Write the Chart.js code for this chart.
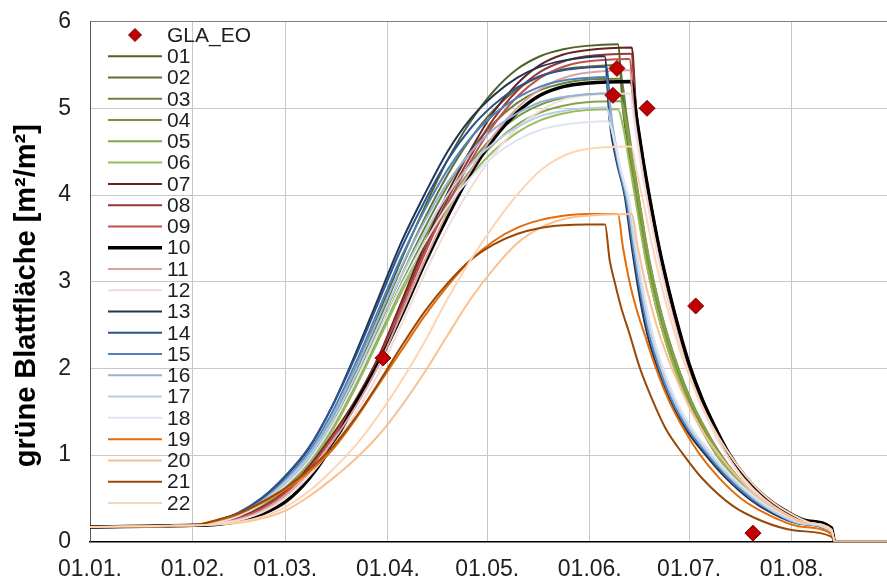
<!DOCTYPE html>
<html>
<head>
<meta charset="utf-8">
<script src="https://cdn.jsdelivr.net/npm/chart.js@4.4.1/dist/chart.umd.min.js"></script>
<style>
  html, body { margin: 0; padding: 0; background: #ffffff; }
  #wrap { width: 887px; height: 581px; }
</style>
</head>
<body>
<div id="wrap"><canvas id="lai"></canvas></div>
<script>
// Month starts (day of year, 0 = 01.01.) and their axis labels
const monthDays = [0, 31, 59, 90, 120, 151, 181, 212];
const monthLabels = ['01.01.', '01.02.', '01.03.', '01.04.', '01.05.', '01.06.', '01.07.', '01.08.'];

// Observed green leaf area (GLA_EO): day of year and value
const obsDays = [88.5, 158, 159.2, 168.3, 183, 200.3];
const obsLAI  = [2.12, 5.15, 5.46, 5.00, 2.72, 0.10];

// Simulated green leaf area per run: [day of year, m²/m²]
const lai01 = [[0,0.17],[31,0.19],[38,0.23],[45,0.30],[52,0.45],[59,0.66],[66,0.98],[73,1.42],[80,1.98],[87,2.60],[94,3.25],[101,3.85],[108,4.40],[115,4.85],[122,5.20],[129,5.45],[136,5.60],[143,5.68],[150,5.72],[159.5,5.74],[161,5.00],[163,4.45],[165,3.95],[168,3.25],[171,2.72],[174,2.30],[177,1.96],[181,1.58],[185,1.28],[189,1.02],[194,0.77],[200,0.53],[207,0.35],[214,0.23],[224,0.12],[225,0],[241,0]];
const lai02 = [[0,0.17],[31,0.19],[38,0.23],[45,0.30],[52,0.44],[59,0.65],[66,0.96],[73,1.39],[80,1.93],[87,2.53],[94,3.15],[101,3.72],[108,4.23],[115,4.65],[122,4.98],[129,5.22],[136,5.37],[143,5.45],[150,5.48],[160,5.50],[161.5,4.98],[163.5,4.44],[165.5,3.94],[168.5,3.25],[171.5,2.72],[174.5,2.31],[177.5,1.97],[181.5,1.59],[185.5,1.29],[189.5,1.03],[194.5,0.78],[200.5,0.54],[207.5,0.36],[214.5,0.23],[224,0.13],[225,0],[241,0]];
const lai03 = [[0,0.17],[31,0.19],[38,0.22],[45,0.29],[52,0.43],[59,0.63],[66,0.93],[73,1.35],[80,1.88],[87,2.46],[94,3.06],[101,3.61],[108,4.10],[115,4.51],[122,4.83],[129,5.06],[136,5.21],[143,5.29],[150,5.33],[160.5,5.34],[162,4.95],[164,4.42],[166,3.93],[169,3.25],[172,2.73],[175,2.32],[178,1.98],[182,1.60],[186,1.30],[190,1.04],[195,0.78],[201,0.54],[208,0.36],[215,0.23],[224,0.13],[225,0],[241,0]];
const lai04 = [[0,0.17],[31,0.19],[38,0.22],[45,0.29],[52,0.42],[59,0.62],[66,0.91],[73,1.31],[80,1.82],[87,2.39],[94,2.97],[101,3.50],[108,3.98],[115,4.37],[122,4.68],[129,4.90],[136,5.04],[143,5.12],[150,5.16],[160,5.17],[161.5,4.88],[163.5,4.40],[165.5,3.92],[168.5,3.24],[171.5,2.72],[174.5,2.31],[177.5,1.97],[181.5,1.59],[185.5,1.29],[189.5,1.03],[194.5,0.78],[200.5,0.54],[207.5,0.36],[214.5,0.23],[224,0.13],[225,0],[241,0]];
const lai05 = [[0,0.17],[31,0.19],[38,0.22],[45,0.28],[52,0.41],[59,0.60],[66,0.89],[73,1.29],[80,1.79],[87,2.35],[94,2.92],[101,3.44],[108,3.91],[115,4.29],[122,4.59],[129,4.81],[136,4.95],[143,5.03],[150,5.07],[160.5,5.08],[162,4.85],[164,4.38],[166,3.90],[169,3.24],[172,2.72],[175,2.31],[178,1.97],[182,1.59],[186,1.29],[190,1.03],[195,0.78],[201,0.54],[208,0.36],[215,0.23],[224,0.13],[225,0],[241,0]];
const lai06 = [[0,0.17],[31,0.19],[38,0.22],[45,0.28],[52,0.41],[59,0.60],[66,0.88],[73,1.27],[80,1.76],[87,2.31],[94,2.87],[101,3.38],[108,3.84],[115,4.22],[122,4.51],[129,4.72],[136,4.86],[143,4.94],[150,4.98],[159.5,4.99],[161,4.80],[163,4.36],[165,3.90],[168,3.23],[171,2.71],[174,2.30],[177,1.96],[181,1.58],[185,1.28],[189,1.02],[194,0.77],[200,0.53],[207,0.35],[214,0.23],[224,0.12],[225,0],[241,0]];
const lai07 = [[0,0.17],[31,0.19],[38,0.22],[45,0.28],[52,0.40],[59,0.58],[66,0.86],[73,1.22],[80,1.62],[87,2.12],[94,2.76],[101,3.42],[108,4.02],[115,4.52],[122,4.96],[129,5.28],[136,5.50],[143,5.62],[150,5.67],[163.7,5.70],[165,5.00],[167,4.45],[169,4.00],[172,3.40],[175,2.90],[178,2.45],[181,2.06],[185,1.65],[189,1.32],[193,1.03],[198,0.76],[204,0.52],[210,0.36],[217,0.24],[224,0.16],[225,0],[241,0]];
const lai08 = [[0,0.17],[31,0.19],[38,0.22],[45,0.28],[52,0.39],[59,0.57],[66,0.84],[73,1.20],[80,1.60],[87,2.10],[94,2.72],[101,3.36],[108,3.95],[115,4.45],[122,4.88],[129,5.20],[136,5.42],[143,5.54],[150,5.60],[163.5,5.63],[165,4.98],[167,4.44],[169,3.98],[172,3.38],[175,2.88],[178,2.43],[181,2.04],[185,1.63],[189,1.30],[193,1.02],[198,0.75],[204,0.51],[210,0.35],[217,0.23],[224,0.15],[225,0],[241,0]];
const lai09 = [[0,0.17],[31,0.19],[38,0.22],[45,0.27],[52,0.38],[59,0.56],[66,0.83],[73,1.18],[80,1.58],[87,2.07],[94,2.68],[101,3.31],[108,3.89],[115,4.39],[122,4.81],[129,5.13],[136,5.35],[143,5.48],[150,5.54],[163,5.57],[164.5,4.96],[166.5,4.42],[168.5,3.97],[171.5,3.37],[174.5,2.87],[177.5,2.42],[180.5,2.03],[184.5,1.62],[188.5,1.29],[192.5,1.01],[197.5,0.74],[203.5,0.51],[209.5,0.35],[216.5,0.23],[224,0.14],[225,0],[241,0]];
const lai10 = [[0,0.17],[31,0.19],[38,0.20],[45,0.24],[52,0.32],[59,0.46],[66,0.72],[73,1.10],[80,1.58],[87,2.05],[94,2.60],[101,3.20],[108,3.75],[115,4.25],[122,4.65],[129,4.95],[136,5.15],[143,5.25],[150,5.29],[163.5,5.31],[165,4.92],[167,4.42],[169,3.98],[172,3.38],[175,2.88],[178,2.44],[181,2.05],[185,1.64],[189,1.31],[193,1.02],[198,0.75],[204,0.52],[210,0.36],[217,0.24],[224,0.16],[225,0],[241,0]];
const lai11 = [[0,0.17],[31,0.19],[38,0.21],[45,0.26],[52,0.36],[59,0.53],[66,0.79],[73,1.14],[80,1.54],[87,2.02],[94,2.62],[101,3.23],[108,3.80],[115,4.28],[122,4.69],[129,5.00],[136,5.22],[143,5.35],[150,5.41],[163,5.44],[164.5,4.90],[166.5,4.38],[168.5,3.92],[171.5,3.33],[174.5,2.83],[177.5,2.39],[180.5,2.00],[184.5,1.60],[188.5,1.27],[192.5,1.00],[197.5,0.73],[203.5,0.50],[209.5,0.34],[216.5,0.22],[224,0.14],[225,0],[241,0]];
const lai12 = [[0,0.17],[31,0.19],[38,0.21],[45,0.25],[52,0.34],[59,0.50],[66,0.75],[73,1.08],[80,1.47],[87,1.93],[94,2.50],[101,3.08],[108,3.62],[115,4.08],[122,4.47],[129,4.77],[136,4.97],[143,5.10],[150,5.15],[163,5.17],[164.5,4.84],[166.5,4.34],[168.5,3.90],[171.5,3.31],[174.5,2.81],[177.5,2.37],[180.5,1.99],[184.5,1.59],[188.5,1.26],[192.5,0.99],[197.5,0.72],[203.5,0.49],[209.5,0.33],[216.5,0.22],[224,0.14],[225,0],[241,0]];
const lai13 = [[0,0.17],[31,0.19],[38,0.24],[45,0.33],[52,0.50],[59,0.75],[66,1.07],[73,1.55],[80,2.15],[87,2.80],[94,3.45],[101,4.00],[108,4.50],[115,4.88],[122,5.15],[129,5.35],[136,5.48],[143,5.55],[150,5.59],[155.5,5.60],[157,4.85],[159,4.40],[161.5,4.00],[163.5,3.45],[165.5,2.95],[168,2.45],[171,2.05],[175,1.65],[180,1.30],[186,1.00],[192,0.74],[199,0.50],[206,0.33],[214,0.21],[224,0.11],[225,0],[241,0]];
const lai14 = [[0,0.17],[31,0.19],[38,0.24],[45,0.34],[52,0.51],[59,0.76],[66,1.08],[73,1.55],[80,2.12],[87,2.75],[94,3.38],[101,3.92],[108,4.40],[115,4.77],[122,5.04],[129,5.24],[136,5.37],[143,5.44],[150,5.47],[156,5.48],[157.5,4.85],[159.5,4.38],[162,3.98],[164,3.44],[166,2.96],[168.5,2.47],[171.5,2.07],[175.5,1.67],[180.5,1.31],[186.5,1.01],[192.5,0.75],[199.5,0.51],[206.5,0.34],[214.5,0.21],[224,0.12],[225,0],[241,0]];
const lai15 = [[0,0.17],[31,0.19],[38,0.23],[45,0.32],[52,0.48],[59,0.72],[66,1.03],[73,1.48],[80,2.04],[87,2.66],[94,3.28],[101,3.82],[108,4.29],[115,4.66],[122,4.93],[129,5.12],[136,5.25],[143,5.32],[150,5.35],[156,5.36],[157.5,4.82],[159.5,4.36],[162,3.95],[164,3.42],[166,2.94],[168.5,2.46],[171.5,2.06],[175.5,1.66],[180.5,1.31],[186.5,1.01],[192.5,0.75],[199.5,0.51],[206.5,0.34],[214.5,0.21],[224,0.12],[225,0],[241,0]];
const lai16 = [[0,0.17],[31,0.19],[38,0.23],[45,0.32],[52,0.47],[59,0.70],[66,1.00],[73,1.43],[80,1.97],[87,2.57],[94,3.17],[101,3.69],[108,4.14],[115,4.49],[122,4.76],[129,4.94],[136,5.07],[143,5.13],[150,5.16],[156.5,5.17],[158,4.78],[160,4.34],[162.5,3.95],[164.5,3.42],[166.5,2.95],[169,2.47],[172,2.07],[176,1.67],[181,1.32],[187,1.02],[193,0.76],[200,0.52],[207,0.34],[215,0.21],[224,0.12],[225,0],[241,0]];
const lai17 = [[0,0.17],[31,0.19],[38,0.23],[45,0.31],[52,0.46],[59,0.68],[66,0.97],[73,1.38],[80,1.90],[87,2.48],[94,3.06],[101,3.56],[108,4.00],[115,4.35],[122,4.60],[129,4.78],[136,4.91],[143,4.97],[150,5.00],[156,5.01],[158,4.70],[160,4.32],[162.5,3.93],[164.5,3.41],[166.5,2.94],[169,2.46],[172,2.07],[176,1.67],[181,1.32],[187,1.02],[193,0.76],[200,0.52],[207,0.34],[215,0.21],[224,0.12],[225,0],[241,0]];
const lai18 = [[0,0.17],[31,0.19],[38,0.22],[45,0.30],[52,0.44],[59,0.65],[66,0.93],[73,1.33],[80,1.83],[87,2.39],[94,2.95],[101,3.44],[108,3.87],[115,4.20],[122,4.45],[129,4.63],[136,4.75],[143,4.81],[150,4.84],[156.5,4.85],[158.5,4.62],[160.5,4.28],[163,3.92],[165,3.41],[167,2.95],[169.5,2.48],[172.5,2.08],[176.5,1.68],[181.5,1.33],[187.5,1.03],[193.5,0.77],[200.5,0.53],[207.5,0.35],[215.5,0.22],[224,0.12],[225,0],[241,0]];
const lai19 = [[0,0.17],[31,0.19],[38,0.24],[45,0.32],[52,0.45],[59,0.60],[66,0.80],[73,1.05],[80,1.40],[87,1.80],[94,2.20],[101,2.60],[108,2.95],[115,3.25],[122,3.47],[129,3.62],[136,3.71],[143,3.76],[150,3.78],[159.5,3.78],[161,3.40],[163,3.00],[165,2.70],[167.5,2.40],[171,2.00],[175,1.62],[180,1.26],[184,1.02],[190,0.74],[197,0.49],[205,0.31],[214,0.18],[224,0.09],[225,0],[241,0]];
const lai20 = [[0,0.17],[31,0.19],[38,0.20],[45,0.22],[52,0.27],[59,0.36],[66,0.52],[73,0.72],[80,0.95],[87,1.22],[94,1.56],[101,1.95],[108,2.38],[115,2.80],[122,3.15],[129,3.44],[136,3.62],[143,3.72],[150,3.76],[163.6,3.78],[165.5,3.40],[168,2.95],[171,2.52],[174,2.18],[177.5,1.85],[181.5,1.52],[186,1.22],[190.5,0.98],[196,0.73],[202,0.51],[209,0.34],[216,0.22],[224,0.13],[225,0],[241,0]];
const lai21 = [[0,0.17],[31,0.19],[38,0.25],[45,0.33],[52,0.46],[59,0.62],[66,0.83],[73,1.08],[80,1.42],[87,1.82],[94,2.25],[101,2.65],[108,2.98],[115,3.25],[122,3.43],[129,3.55],[136,3.62],[143,3.65],[150,3.66],[155.6,3.66],[157,3.25],[158.5,3.00],[160.5,2.70],[163,2.40],[166,2.02],[169,1.72],[174,1.30],[179,1.02],[185,0.73],[194,0.42],[203,0.24],[213,0.13],[224,0.06],[225,0],[241,0]];
const lai22 = [[0,0.17],[31,0.19],[38,0.20],[45,0.23],[52,0.29],[59,0.40],[66,0.58],[73,0.82],[80,1.10],[87,1.45],[94,1.85],[101,2.30],[108,2.80],[115,3.25],[122,3.65],[129,4.00],[136,4.28],[143,4.45],[150,4.53],[163.6,4.56],[165,4.30],[167,3.95],[169.5,3.48],[172.5,2.98],[175.5,2.55],[178.5,2.18],[182,1.82],[186,1.48],[190,1.20],[194.5,0.94],[199.5,0.70],[205.5,0.48],[212,0.32],[218.5,0.21],[224,0.14],[225,0],[241,0]];

const runNames = ['01','02','03','04','05','06','07','08','09','10','11','12','13','14','15','16','17','18','19','20','21','22'];
const runData = [lai01, lai02, lai03, lai04, lai05, lai06, lai07, lai08, lai09, lai10, lai11, lai12,
                 lai13, lai14, lai15, lai16, lai17, lai18, lai19, lai20, lai21, lai22];
const runColors = ['#4f6228','#5d7232','#6a823a','#77933c','#86a34c','#9bbb59',
                   '#632523','#953735','#c0504d','#000000','#dba3a2','#f0dcdb',
                   '#1f3550','#2f528f','#4f81bd','#95b3d7','#b9cde5','#dce6f2',
                   '#e46c0a','#fac090','#984807','#fcd5b5'];

const FONT = '"Liberation Sans", Arial, sans-serif';

const datasets = [{
  label: 'GLA_EO',
  data: obsDays.map((d, i) => ({ x: d, y: obsLAI[i] })),
  showLine: false,
  pointStyle: 'rectRot',
  pointRadius: 8,
  pointHoverRadius: 8,
  backgroundColor: '#c00000',
  borderColor: '#7a0000',
  borderWidth: 1,
  order: 0
}];
runNames.forEach((name, i) => {
  datasets.push({
    label: name,
    data: runData[i].map(p => ({ x: p[0], y: p[1] })),
    showLine: true,
    borderColor: runColors[i],
    backgroundColor: runColors[i],
    borderWidth: name === '10' ? 3.5 : 2,
    pointRadius: 0,
    cubicInterpolationMode: 'monotone',
    order: 100 - i
  });
});

// Legend drawn inside the plot area, one entry per row
const insideLegend = {
  id: 'insideLegend',
  afterDraw(chart) {
    const { ctx, chartArea } = chart;
    ctx.save();
    ctx.font = '21px ' + FONT;
    ctx.textBaseline = 'middle';
    ctx.textAlign = 'left';
    chart.data.datasets.forEach((ds, i) => {
      const y = chartArea.top + 13.4 + i * 21.27;
      const x0 = chartArea.left + 18, x1 = chartArea.left + 72;
      if (ds.showLine === false) {
        const cx = (x0 + x1) / 2, r = 6.5;
        ctx.beginPath();
        ctx.moveTo(cx - r, y); ctx.lineTo(cx, y - r); ctx.lineTo(cx + r, y); ctx.lineTo(cx, y + r);
        ctx.closePath();
        ctx.fillStyle = ds.backgroundColor; ctx.fill();
        ctx.lineWidth = 1; ctx.strokeStyle = ds.borderColor; ctx.stroke();
      } else {
        ctx.beginPath();
        ctx.moveTo(x0, y); ctx.lineTo(x1, y);
        ctx.lineWidth = ds.borderWidth; ctx.strokeStyle = ds.borderColor; ctx.stroke();
      }
      ctx.fillStyle = '#1e1e1e';
      ctx.fillText(ds.label, chartArea.left + 77, y + 1);
    });
    ctx.restore();
  }
};

// Vertical axis title, centred a little below the middle of the plot height
const yTitle = {
  id: 'yTitle',
  afterDraw(chart) {
    const { ctx, chartArea } = chart;
    ctx.save();
    ctx.translate(27, (chartArea.top + chartArea.bottom) / 2 + 14);
    ctx.rotate(-Math.PI / 2);
    ctx.font = 'bold 29px ' + FONT;
    ctx.fillStyle = '#000000';
    ctx.textAlign = 'center';
    ctx.textBaseline = 'middle';
    ctx.fillText('grüne Blattfläche [m²/m²]', 0, 0);
    ctx.restore();
  }
};

new Chart(document.getElementById('lai'), {
  type: 'scatter',
  data: { datasets },
  plugins: [insideLegend, yTitle],
  options: {
    responsive: true,
    maintainAspectRatio: false,
    animation: false,
    layout: { autoPadding: false, padding: { top: 21.6, right: 0, bottom: 0, left: 0 } },
    plugins: { legend: { display: false }, tooltip: { enabled: false } },
    scales: {
      x: {
        type: 'linear',
        min: 0,
        max: 240.8,
        afterBuildTicks: s => { s.ticks = monthDays.map(v => ({ value: v })); },
        afterFit: s => { s.height = 39.2; s.paddingLeft = 0; s.paddingRight = 0; },
        ticks: {
          callback: v => monthLabels[monthDays.indexOf(v)],
          font: { family: FONT, size: 23 },
          color: '#1e1e1e',
          padding: 14,
          maxRotation: 0,
          autoSkip: false
        },
        grid: { color: '#c8c8c8', lineWidth: 1, drawTicks: false },
        border: { color: '#000000', width: 1.5 }
      },
      y: {
        min: 0,
        max: 6,
        afterFit: s => { s.width = 90; s.paddingTop = 0; s.paddingBottom = 0; },
        ticks: {
          stepSize: 1,
          font: { family: FONT, size: 23 },
          color: '#1e1e1e',
          padding: 19
        },
        grid: {
          color: c => (c.tick && c.tick.value === 6 ? '#7f7f7f' : '#c8c8c8'),
          lineWidth: 1,
          drawTicks: false
        },
        border: { color: '#595959', width: 1 }
      }
    }
  }
});
</script>
</body>
</html>
